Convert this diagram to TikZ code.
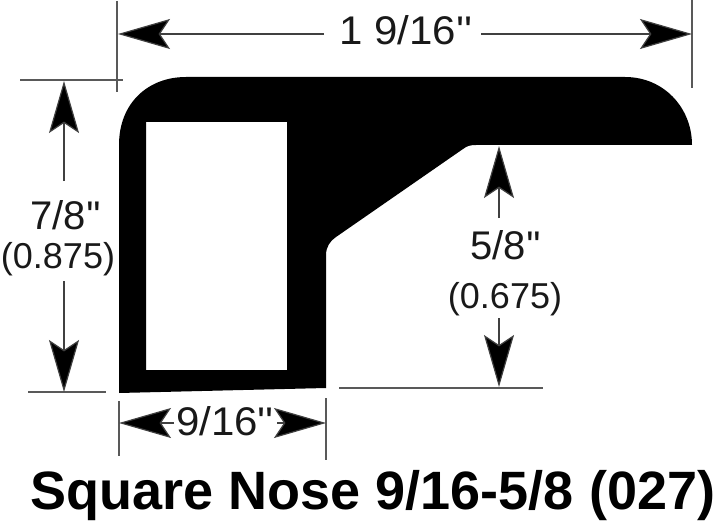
\documentclass[tikz,border=0pt]{standalone}
\usepackage{fontspec}
\newfontfamily\lab{Liberation Sans}
\usetikzlibrary{arrows.meta}
\tikzset{
  dimlbl/.style={inner sep=0pt,font=\lab\fontsize{40}{40}\selectfont,text=black!90},
  sublbl/.style={inner sep=0pt,font=\lab\fontsize{36}{36}\selectfont,text=black!90},
  titlelbl/.style={inner sep=0pt,font=\lab\bfseries\fontsize{54}{54}\selectfont},
  extline/.style={draw=black!65,line width=1.2pt},
  dimline/.style={draw=black!75,line width=1.2pt,-{Stealth[length=52pt,width=30pt,inset=10pt,fill=black]}},
  profile/.style={fill=black,even odd rule}
}
\begin{document}
\begin{tikzpicture}[x=1pt,y=-1pt]
\useasboundingbox (0,0) rectangle (720,532);
% profile
\fill[profile] (119,393) -- (119,145)
  .. controls (119,103) and (148,77) .. (186,77)
  -- (625,77)
  .. controls (664,77) and (692,108) .. (692,145)
  -- (476,145) .. controls (470,145) and (467,146) .. (463,149)
  -- (336,237) .. controls (330,241) and (326,247) .. (326,255)
  -- (326,388) -- cycle
  (146,122) rectangle (287,370);
% extension lines
\coordinate (extA1) at (117,1);   \coordinate (extA2) at (117,92);
\coordinate (extB1) at (692,0);   \coordinate (extB2) at (692,88);
\coordinate (extC1) at (20,80);   \coordinate (extC2) at (123,80);
\coordinate (extD1) at (28,392);  \coordinate (extD2) at (106,392);
\coordinate (extE1) at (339,388); \coordinate (extE2) at (543,388);
\coordinate (extF1) at (119,401); \coordinate (extF2) at (119,456);
\coordinate (extG1) at (326,398); \coordinate (extG2) at (326,460);
\foreach \n in {A,B,C,D,E,F,G} \draw[extline] (ext\n1) -- (ext\n2);
% labels
\node[dimlbl] (w) at (406,30) {\scalebox{1.05}[1]{1 9/16''}};
\node[dimlbl] (h) at (66,215) {7/8''};
\node[sublbl] (hs) at (58,259) {(0.875)};
\node[dimlbl] (d) at (506,245) {5/8''};
\node[sublbl] (ds) at (505,299) {(0.675)};
\node[dimlbl] (b) at (225,421) {\scalebox{1.05}[1]{9/16''}};
\node[titlelbl] (t) at (373,496) {Square Nose 9/16-5/8 (027)};
% dimension arrows
\coordinate (wL) at (118,34); \coordinate (wR) at (692,34);
\coordinate (wLs) at (324,34); \coordinate (wRs) at (481,34);
\draw[dimline] (wLs) -- (wL);
\draw[dimline] (wRs) -- (wR);
\coordinate (hT) at (64,81); \coordinate (hB) at (64,392);
\coordinate (hTs) at (64,181); \coordinate (hBs) at (64,281);
\draw[dimline] (hTs) -- (hT);
\draw[dimline] (hBs) -- (hB);
\coordinate (dT) at (499,146); \coordinate (dB) at (499,387);
\coordinate (dTs) at (499,218); \coordinate (dBs) at (499,318);
\draw[dimline] (dTs) -- (dT);
\draw[dimline] (dBs) -- (dB);
\coordinate (bL) at (119,423); \coordinate (bR) at (326,423);
\coordinate (bLs) at (174,423); \coordinate (bRs) at (277,423);
\draw[dimline] (bLs) -- (bL);
\draw[dimline] (bRs) -- (bR);
\end{tikzpicture}
\end{document}
